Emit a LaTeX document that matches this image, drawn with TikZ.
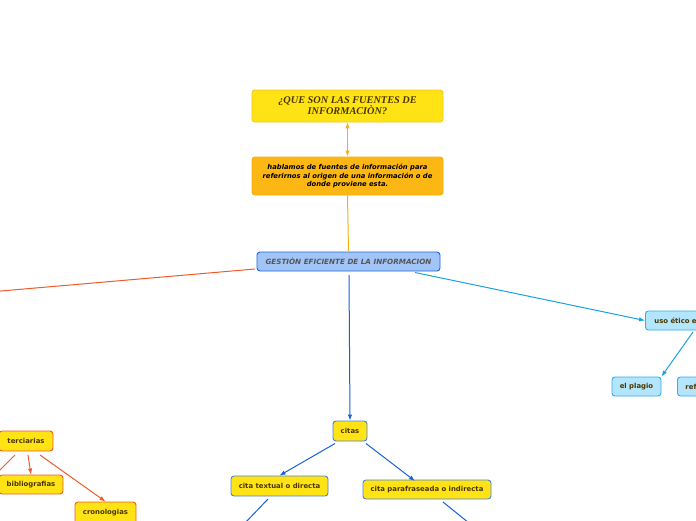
\documentclass[tikz,border=0pt]{standalone}
\usepackage{fontspec}
\setmainfont{DejaVu Sans}
\newfontfamily\titlefont{Liberation Serif}
\usetikzlibrary{arrows.meta}
\definecolor{yel}{HTML}{FFE314}
\definecolor{yelborder}{HTML}{F7C520}
\definecolor{orfill}{HTML}{FDB714}
\definecolor{orborder}{HTML}{F5AE0A}
\definecolor{orline}{HTML}{F7AE12}
\definecolor{gfill}{HTML}{A2C5F8}
\definecolor{gborder}{HTML}{1F64DF}
\definecolor{cyfill}{HTML}{B3E5FC}
\definecolor{cyborder}{HTML}{35ACE8}
\definecolor{cyline}{HTML}{17A2E6}
\definecolor{dkblue}{HTML}{1563D6}
\definecolor{redline}{HTML}{F05A28}
\definecolor{txt}{HTML}{4A3600}
\definecolor{gtxt}{HTML}{555555}
\tikzset{
  box/.style={rounded corners=3pt, line width=0.9pt, inner sep=0pt, align=center,
    font=\fontsize{6.9}{8}\selectfont\bfseries, text=txt},
  yelblue/.style={box, fill=yel, draw=dkblue!80},
  yelred/.style={box, fill=yel, draw=redline},
  cybox/.style={box, fill=cyfill, draw=cyborder},
  tip/.style={-{Latex[length=6pt,width=4.5pt]}},
}
\begin{document}
\begin{tikzpicture}[x=1pt,y=-1pt]
\useasboundingbox (0,0) rectangle (696,520);
\clip (0,0) rectangle (696,520);
% title
\node[box, fill=yel, draw=yelborder, minimum width=191pt, minimum height=32pt,
  font=\titlefont\fontsize{10.3}{11}\selectfont\bfseries\itshape, text=txt]
  (title) at (347.5,106) {¿QUE SON LAS FUENTES DE\\INFORMACIÒN?};
% orange
\node[box, fill=orfill, draw=orborder, minimum width=191pt, minimum height=38pt,
  font=\fontsize{6.8}{8.4}\selectfont\bfseries\itshape, text=black]
  (hab) at (347.5,176) {hablamos de fuentes de información para\\referirnos al origen de una información o de\\donde proviene esta.};
% gestion
\node[box, fill=gfill, draw=gborder, minimum width=183pt, minimum height=19pt,
  font=\fontsize{7.2}{8}\selectfont\bfseries\itshape, text=gtxt]
  (gest) at (348.5,261.5) {GESTIÒN EFICIENTE DE LA INFORMACION};
% cyan
\node[cybox, minimum width=90pt, minimum height=19pt, anchor=west, align=left, text width=80pt]
  (uso) at (645,320.5) {\hspace*{4pt}uso ético e};
\node[cybox, minimum width=49pt, minimum height=19pt] (plagio) at (636.5,386.5) {el plagio};
\node[cybox, minimum width=40pt, minimum height=19pt, anchor=west, align=left, text width=34pt]
  (ref) at (677,386.5) {\hspace*{5pt}ref};
% citas
\node[yelblue, minimum width=34pt, minimum height=20pt] (citas) at (350,431) {citas};
\node[yelblue, minimum width=97pt, minimum height=20pt] (textual) at (279.5,486) {cita textual o directa};
\node[yelblue, minimum width=128pt, minimum height=19pt] (para) at (427,489.5) {cita parafraseada o indirecta};
% terciarias
\node[yelred, minimum width=54pt, minimum height=20pt] (terc) at (26,441) {terciarias};
\node[yelred, minimum width=64pt, minimum height=19pt] (biblio) at (31,484.5) {bibliografias};
\node[yelred, minimum width=61pt, minimum height=22pt] (crono) at (105.5,513) {cronologias};
% off-picture coordinates
\coordinate (offL) at (-5,291.5);
\coordinate (offT) at (-6,420);
\coordinate (offTL) at (-2,472);
\coordinate (offA) at (245,523);
\coordinate (offB) at (469,523);
% connectors
\draw[orline, line width=1pt, {Latex[length=6pt,width=4.5pt]}-{Latex[length=6pt,width=4.5pt]}]
  (title.south) -- (hab.north);
\draw[orline, line width=1pt] (hab.south) -- (gest.north);
\draw[redline, line width=1pt] (255,269) -- (offL);
\draw[cyline, line width=1pt, tip] (415,272.5) -- (uso.west);
\draw[dkblue, line width=1pt, tip] (349,275) -- (citas.north);
\draw[cyline, line width=1pt, tip] (693,332) -- (plagio.north east);
\draw[dkblue, line width=1pt, tip] (335,443.5) -- (textual.north);
\draw[dkblue, line width=1pt, tip] (366,443.5) -- (415,481);
\draw[dkblue, line width=1pt] (268,499) -- (offA);
\draw[dkblue, line width=1pt] (443,502) -- (offB);
\draw[redline, line width=1pt, tip] (offT) -- (terc.north west);
\draw[redline, line width=1pt] (15,455) -- (offTL);
\draw[redline, line width=1pt, tip] (28,455) -- (biblio.north);
\draw[redline, line width=1pt, tip] (40,455) -- (crono.north);
\end{tikzpicture}
\end{document}
